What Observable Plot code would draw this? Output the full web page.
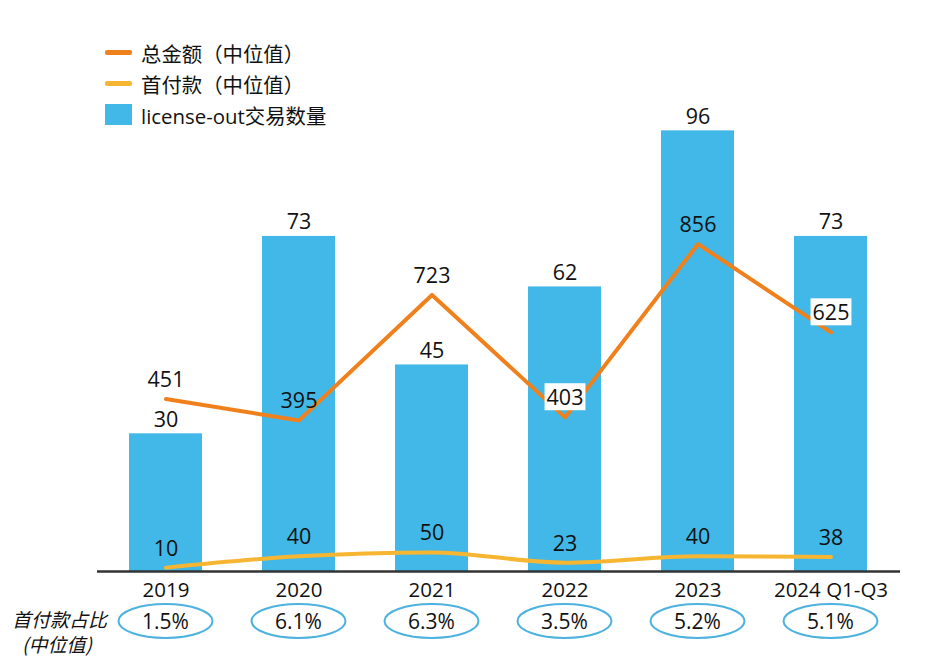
<!DOCTYPE html>
<html>
<head>
<meta charset="utf-8">
<script src="https://cdn.jsdelivr.net/npm/d3@7"></script>
<script src="https://cdn.jsdelivr.net/npm/@observablehq/plot@0.6"></script>
<style>
  html, body { margin: 0; padding: 0; background: #fff; }
  #wrap { position: relative; width: 934px; height: 667px; font-family: "Open Sans", "Noto Sans CJK SC", sans-serif; color: #111; }
  #legend { position: absolute; left: 105px; top: 37px; font-size: 20.4px; }
  .lrow { display: flex; align-items: center; height: 31px; }
  .sw { width: 27px; margin-right: 9px; }
  #rowlabel { position: absolute; left: 12px; top: 606px; font-size: 19px; font-style: italic; line-height: 25px; font-family: "Noto Sans CJK SC", sans-serif; }
</style>
</head>
<body>
<div id="wrap"></div>
<script>
const years = ["2019", "2020", "2021", "2022", "2023", "2024 Q1-Q3"];
const dealCounts = [30, 73, 45, 62, 96, 73];
const totalMedian = [451, 395, 723, 403, 856, 625];
const upfrontMedian = [10, 40, 50, 23, 40, 38];
const upfrontShare = ["1.5%", "6.1%", "6.3%", "3.5%", "5.2%", "5.1%"];
const legendLabels = ["总金额（中位值）", "首付款（中位值）", "license-out交易数量"];
const rowLabel = ["首付款占比", "(中位值)"];
const boxedTotalLabels = ["2022", "2024 Q1-Q3"];

const barColor = "#41b8e7";
const orange = "#f0801c";
const yellow = "#f6b631";
const ratio = 12; // secondary axis scale (money / count)

const data = years.map((year, i) => ({
  year, count: dealCounts[i], total: totalMedian[i], upfront: upfrontMedian[i], share: upfrontShare[i]
}));

const font = '"Open Sans", "Noto Sans CJK SC", sans-serif';

const ovals = (index, scales, values, dimensions) => {
  const g = d3.create("svg:g");
  const bw = scales.x.bandwidth ? scales.x.bandwidth() : 0;
  const cy = dimensions.height - dimensions.marginBottom + 50;
  for (const d of data) {
    const cx = scales.x(d.year) + bw / 2;
    g.append("ellipse").attr("cx", cx).attr("cy", cy).attr("rx", 47).attr("ry", 17)
      .attr("fill", "none").attr("stroke", "#4db2df").attr("stroke-width", 2);
    g.append("text").attr("x", cx).attr("y", cy).attr("dy", "0.36em")
      .attr("text-anchor", "middle").attr("font-size", 21).attr("fill", "#111")
      .attr("font-family", font).text(d.share);
  }
  return g.node();
};

const chart = Plot.plot({
  width: 934,
  height: 667,
  marginLeft: 97,
  marginRight: 34,
  marginTop: 112,
  marginBottom: 96,
  style: { fontFamily: font, fontSize: "19px", color: "#111", background: "transparent", overflow: "visible" },
  x: { domain: years, paddingInner: 0.45, paddingOuter: 0.225, label: null },
  y: { domain: [0, 100], axis: null },
  marks: [
    Plot.barY(data, { x: "year", y: "count", fill: barColor }),
    Plot.line(data, { x: "year", y: d => d.total / ratio, stroke: orange, strokeWidth: 4 }),
    Plot.line(data, { x: "year", y: d => d.upfront / ratio, stroke: yellow, strokeWidth: 4, curve: "monotone-x" }),
    Plot.text(data, { x: "year", y: d => d.total / ratio, text: d => String(d.total), dy: -19, fontSize: 21.5, fill: "#111", className: "totlab" }),
    Plot.text(data, { x: "year", y: d => d.upfront / ratio, text: d => String(d.upfront), dy: -19, fontSize: 21.5, fill: "#111" }),
    Plot.text(data, { x: "year", y: "count", text: d => String(d.count), dy: -14, fontSize: 21.5, fill: "#111" }),
    Plot.axisX({ tickSize: 0, tickPadding: 11, fontSize: 20.5, label: null, fill: "#111" }),
    Plot.ruleY([0], { stroke: "#333", strokeWidth: 2.5 }),
    ovals
  ]
});

const wrap = document.getElementById("wrap");
wrap.appendChild(chart);

// white boxes behind selected total labels
d3.select(chart).selectAll("g.totlab text").each(function (_, i) {
  if (!boxedTotalLabels.includes(data[i].year)) return;
  const bb = this.getBBox();
  const r = document.createElementNS("http://www.w3.org/2000/svg", "rect");
  r.setAttribute("x", bb.x - 2);
  r.setAttribute("y", bb.y + 1);
  r.setAttribute("width", bb.width + 4);
  r.setAttribute("height", bb.height - 2);
  r.setAttribute("fill", "#fff");
  const t = this.getAttribute("transform");
  if (t) r.setAttribute("transform", t);
  this.parentNode.insertBefore(r, this);
});

// legend
const legend = document.createElement("div");
legend.id = "legend";
const swatches = [
  `<div class="sw" style="height:5px;background:${orange};border-radius:2px"></div>`,
  `<div class="sw" style="height:5px;background:${yellow};border-radius:2px"></div>`,
  `<div class="sw" style="height:21px;background:${barColor}"></div>`
];
legend.innerHTML = legendLabels.map((l, i) => `<div class="lrow">${swatches[i]}<span>${l}</span></div>`).join("");
wrap.appendChild(legend);

const rl = document.createElement("div");
rl.id = "rowlabel";
rl.innerHTML = rowLabel.map((t, i) => `<div style="padding-left:${i ? 10 : 0}px">${t}</div>`).join("");
wrap.appendChild(rl);
</script>
</body>
</html>
